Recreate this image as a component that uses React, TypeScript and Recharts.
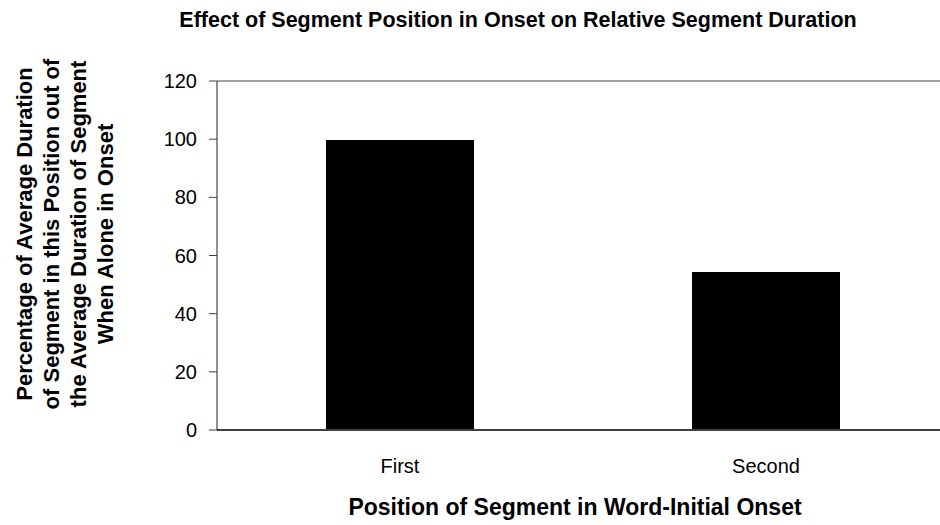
import React from 'react'
import { BarChart, Bar, XAxis, YAxis, ReferenceLine, Label } from 'recharts'

const categories = ['First', 'Second']
const durationPct = [99.7, 54.3]
const yTicks = [0, 20, 40, 60, 80, 100, 120]
const chartTitle = 'Effect of Segment Position in Onset on Relative Segment Duration'
const xTitle = 'Position of Segment in Word-Initial Onset'
const yTitleLines = [
  'Percentage of Average Duration',
  'of Segment in this Position out of',
  'the Average Duration of Segment',
  'When Alone in Onset',
]

const data = categories.map((name, i) => ({ name, value: durationPct[i] }))

const FONT = '"Liberation Sans", Arial, sans-serif'

const YTitle = () => {
  const cy = 234
  const startX = 24
  return (
    <g>
      {yTitleLines.map((line, i) => {
        const x = startX + i * 27
        return (
          <text
            key={i}
            x={x}
            y={cy}
            transform={`rotate(-90 ${x} ${cy})`}
            textAnchor="middle"
            dominantBaseline="central"
            fontFamily={FONT}
            fontWeight="bold"
            fontSize={22}
            fill="#000"
          >
            {line}
          </text>
        )
      })}
    </g>
  )
}

const App = () => {
  return (
    <div style={{ position: 'absolute', left: 0, top: 0, width: 940, height: 525, overflow: 'hidden', background: '#fff' }}>
      <svg width={940} height={40} style={{ position: 'absolute', left: 0, top: 0 }}>
        <text x={518} y={27} textAnchor="middle" fontFamily={FONT} fontWeight="bold" fontSize={21.5} fill="#000">
          {chartTitle}
        </text>
      </svg>
      <BarChart
        width={950}
        height={525}
        data={data}
        margin={{ top: 81, right: 1, bottom: 35, left: 0 }}
        barSize={148}
      >
        <ReferenceLine y={120} stroke="#808080" strokeWidth={1.5} />
        <XAxis
          dataKey="name"
          height={60}
          tickLine={false}
          tickSize={0}
          tickMargin={29}
          axisLine={{ stroke: '#404040', strokeWidth: 2 }}
          tick={{ fill: '#000', fontSize: 20, fontFamily: FONT }}
        >
          <Label
            content={() => (
              <text
                x={575}
                y={515}
                textAnchor="middle"
                fontFamily={FONT}
                fontWeight="bold"
                fontSize={23}
                fill="#000"
              >
                {xTitle}
              </text>
            )}
          />
        </XAxis>
        <YAxis
          width={217}
          domain={[0, 120]}
          ticks={yTicks}
          interval={0}
          tickSize={8}
          tickMargin={12}
          axisLine={{ stroke: '#202020' }}
          tickLine={{ stroke: '#404040' }}
          tick={{ fill: '#000', fontSize: 20, fontFamily: FONT }}
        >
          <Label content={<YTitle />} />
        </YAxis>
        <Bar dataKey="value" fill="#000" isAnimationActive={false} />
      </BarChart>
    </div>
  )
}

export default App
